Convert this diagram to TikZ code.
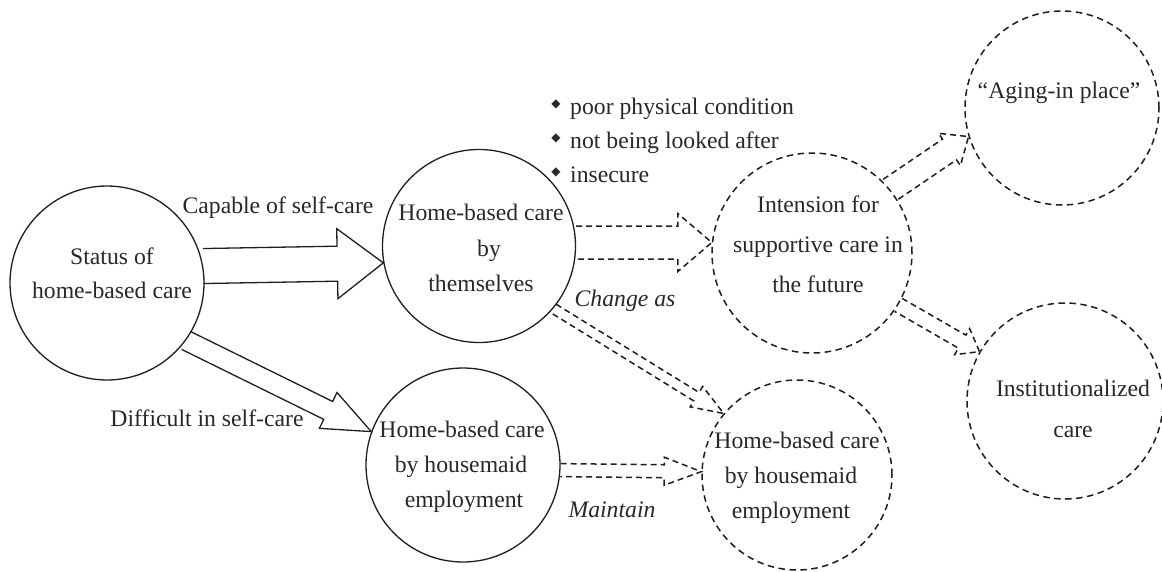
\documentclass[tikz,border=0pt]{standalone}
\usepackage{fontspec}
\setmainfont{Liberation Serif}
\newfontfamily\dejavu{DejaVu Sans}
\usetikzlibrary{calc}
\definecolor{ink}{RGB}{30,30,30}
\definecolor{txtc}{RGB}{40,40,40}
\newcommand\blockarrow[6]{%
  \coordinate (ba-s) at (#2);
  \coordinate (ba-t) at (#3);
  \coordinate (ba-h) at ($(ba-t)!#6!(ba-s)$);
  \draw[#1] ($(ba-s)!#4!90:(ba-t)$) -- ($(ba-h)!#4!90:(ba-t)$) -- ($(ba-h)!#5!90:(ba-t)$) -- (ba-t) -- ($(ba-h)!#5!-90:(ba-t)$) -- ($(ba-h)!#4!-90:(ba-t)$) -- ($(ba-s)!#4!-90:(ba-t)$);}
\begin{document}
\begin{tikzpicture}[x=1pt,y=-1pt,
  solidc/.style={circle,draw=ink,line width=1.3pt,inner sep=0pt},
  dashc/.style={circle,draw=ink,line width=1.5pt,dash pattern=on 6.5pt off 4.5pt,inner sep=0pt},
  solidarrow/.style={draw=ink,line width=1.3pt,line join=miter},
  dasharrow/.style={draw=ink,line width=1.5pt,dash pattern=on 6pt off 4pt,line join=miter},
  txt/.style={anchor=base,inner sep=0pt,text=txtc,font=\fontsize{23.7}{28}\selectfont},
  itxt/.style={txt,font=\fontsize{23.7}{28}\selectfont\itshape},
  btxt/.style={txt,anchor=base west},
  bul/.style={anchor=center,inner sep=0pt,text=txtc,font=\dejavu\fontsize{12}{12}\selectfont}]
\useasboundingbox (0,0) rectangle (1162,571);
% circles
\node[solidc,minimum size=194pt] (A) at (107,283) {};
\node[solidc,minimum size=193pt] (B) at (479,246) {};
\node[solidc,minimum size=194pt] (C) at (463,465) {};
\node[dashc,minimum size=200pt] (D) at (812,253) {};
\node[dashc,minimum size=194pt] (E) at (1062,108) {};
\node[dashc,minimum size=196pt] (F) at (1065,401) {};
\node[dashc,minimum size=190pt] (G) at (797,475) {};
% circle texts
\node[txt] (A1) at (112,264) {Status of};
\node[txt] (A2) at (112,298) {home-based care};
\node[txt] (B1) at (481,220) {Home-based care};
\node[txt] (B2) at (489,256) {by};
\node[txt] (B3) at (481,291) {themselves};
\node[txt] (C1) at (462,437) {Home-based care};
\node[txt] (C2) at (461,472) {by housemaid};
\node[txt] (C3) at (464,507) {employment};
\node[txt] (D1) at (818,212) {Intension for};
\node[txt] (D2) at (818,252) {supportive care in};
\node[txt] (D3) at (818,292) {the future};
\node[txt] (E1) at (1059,98) {“Aging-in place”};
\node[txt] (F1) at (1073,396) {Institutionalized};
\node[txt] (F2) at (1073,437) {care};
\node[txt] (G1) at (797,448) {Home-based care};
\node[txt] (G2) at (791,483) {by housemaid};
\node[txt] (G3) at (791,518) {employment};
% labels
\node[txt] (capable) at (278,213) {Capable of self-care};
\node[txt] (difficult) at (207,426) {Difficult in self-care};
\node[itxt] (changeas) at (625,306) {Change as};
\node[itxt] (maintain) at (612,517) {Maintain};
% bullet list
\node[bul] (u1) at (556,104) {◆};
\node[bul] (u2) at (556,138) {◆};
\node[bul] (u3) at (556,172) {◆};
\node[btxt] (b1) at (570,114) {poor physical condition};
\node[btxt] (b2) at (570,148) {not being looked after};
\node[btxt] (b3) at (570,182) {insecure};
% arrows
\blockarrow{solidarrow}{A.10}{B.190}{17.5pt}{35pt}{46pt}
\blockarrow{solidarrow}{A.-36}{C.160}{10pt}{20pt}{48pt}
\blockarrow{dasharrow}{B.2}{D.174}{16.5pt}{29pt}{34pt}
\blockarrow{dasharrow}{B.-40}{G.140}{5pt}{12pt}{32pt}
\blockarrow{dasharrow}{C.-3}{G.178}{6.5pt}{14pt}{37pt}
\blockarrow{dasharrow}{D.39}{E.197}{12.5pt}{19.5pt}{23pt}
\blockarrow{dasharrow}{D.-31}{F.150}{7.5pt}{15pt}{20pt}
\end{tikzpicture}
\end{document}
